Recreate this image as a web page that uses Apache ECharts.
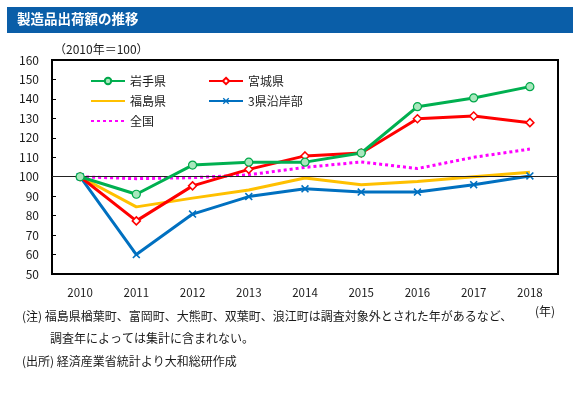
<!DOCTYPE html>
<html><head><meta charset="utf-8">
<script src="https://cdn.jsdelivr.net/npm/echarts@6/dist/echarts.min.js"></script>
<style>html,body{margin:0;padding:0;background:#fff;}#c{width:580px;height:393px;}</style>
</head><body><div id="c"></div>
<script>
var categories = ['2010','2011','2012','2013','2014','2015','2016','2017','2018'];
var iwate    = [100, 91, 106, 107.5, 107.5, 112.2, 136, 140.5, 146.3];
var miyagi   = [100, 77.3, 95.3, 103.8, 110.7, 112.2, 129.8, 131.2, 127.8];
var fukushima= [100, 84.5, 89, 93.2, 99.3, 95.9, 97.6, 100, 102.3];
var coastal  = [100, 60, 80.8, 89.8, 93.8, 92.1, 92.1, 95.9, 100.4];
var national = [100, 99, 99.5, 101, 104.8, 107.6, 104.2, 110, 114.2];
var yTicks = {min: 50, max: 160, interval: 10};

var FONT = '"Noto Sans CJK JP", "Noto Sans", sans-serif';
var TXT = '#1a1a1a';
var xPath = 'path://M0,1.4 L1.4,0 L5,3.6 L8.6,0 L10,1.4 L6.4,5 L10,8.6 L8.6,10 L5,6.4 L1.4,10 L0,8.6 L3.6,5Z';
var legendText = {fontFamily: FONT, fontSize: 12, color: TXT};

var chart = echarts.init(document.getElementById('c'), null, {renderer: 'canvas'});
chart.setOption({
  animation: false,
  textStyle: {fontFamily: FONT},
  grid: {left: 52, right: 22, top: 60, bottom: 119, show: true, borderColor: '#000', borderWidth: 2, backgroundColor: 'transparent'},
  legend: [
    {data: ['岩手県', {name: '福島県', itemStyle: {opacity: 0}}, {name: '全国', itemStyle: {opacity: 0}}],
     orient: 'vertical', left: 85, top: 70, itemWidth: 34, itemHeight: 8, itemGap: 8, textStyle: legendText},
    {data: ['宮城県', '3県沿岸部'], orient: 'vertical', left: 203, top: 70, itemWidth: 34, itemHeight: 8, itemGap: 8,
     textStyle: legendText}
  ],
  xAxis: {
    type: 'category', data: categories, boundaryGap: true,
    axisLine: {lineStyle: {color: '#000', width: 2}},
    axisTick: {inside: true, length: 4, lineStyle: {color: '#000'}},
    axisLabel: {fontFamily: FONT, fontSize: 11.5, color: TXT, margin: 13}
  },
  yAxis: {
    type: 'value', min: yTicks.min, max: yTicks.max, interval: yTicks.interval,
    axisLine: {show: true, lineStyle: {color: '#000', width: 2}},
    axisTick: {show: true, inside: true, length: 4, lineStyle: {color: '#000'}},
    splitLine: {show: false},
    axisLabel: {fontFamily: FONT, fontSize: 12, color: TXT, margin: 13}
  },
  series: [
    {name: '全国', type: 'line', data: national, symbol: 'none', z: 1,
     lineStyle: {color: '#ff00ff', width: 3, type: [3, 3]}, itemStyle: {color: '#ff00ff'},
     markLine: {silent: true, symbol: 'none', label: {show: false},
       lineStyle: {color: '#222', width: 1, type: 'solid'}, data: [{yAxis: 100}]}},
    {name: '福島県', type: 'line', data: fukushima, symbol: 'none', z: 2,
     lineStyle: {color: '#ffc000', width: 3}, itemStyle: {color: '#ffc000'}},
    {name: '3県沿岸部', type: 'line', data: coastal, symbol: xPath, symbolSize: 8, z: 3,
     lineStyle: {color: '#0070c0', width: 3}, itemStyle: {color: '#0070c0'}},
    {name: '宮城県', type: 'line', data: miyagi, symbol: 'diamond', symbolSize: 8, z: 4,
     lineStyle: {color: '#ff0000', width: 3}, itemStyle: {color: '#ffffff', borderColor: '#ff0000', borderWidth: 1.5}},
    {name: '岩手県', type: 'line', data: iwate, symbol: 'circle', symbolSize: 8, z: 5,
     lineStyle: {color: '#00b050', width: 3}, itemStyle: {color: '#a8e8bd', borderColor: '#00a84a', borderWidth: 1.2}}
  ],
  graphic: [
    {type: 'rect', left: 7, top: 7, shape: {width: 566, height: 26}, style: {fill: '#0a5ea8'}, silent: true},
    {type: 'text', left: 17, top: 12, style: {text: '製造品出荷額の推移', fill: '#fff', font: 'bold 13.5px ' + FONT}},
    {type: 'text', left: 54, top: 43, style: {text: '（2010年＝100）', fill: TXT, font: '12px ' + FONT}},
    {type: 'text', left: 535, top: 305, style: {text: '(年)', fill: TXT, font: '12px ' + FONT}},
    {type: 'text', left: 22, top: 310, style: {text: '(注) 福島県楢葉町、富岡町、大熊町、双葉町、浪江町は調査対象外とされた年があるなど、', fill: TXT, font: '12px ' + FONT}},
    {type: 'text', left: 50, top: 332, style: {text: '調査年によっては集計に含まれない。', fill: TXT, font: '12px ' + FONT}},
    {type: 'text', left: 22, top: 355, style: {text: '(出所) 経済産業省統計より大和総研作成', fill: TXT, font: '12px ' + FONT}}
  ]
});
</script></body></html>
